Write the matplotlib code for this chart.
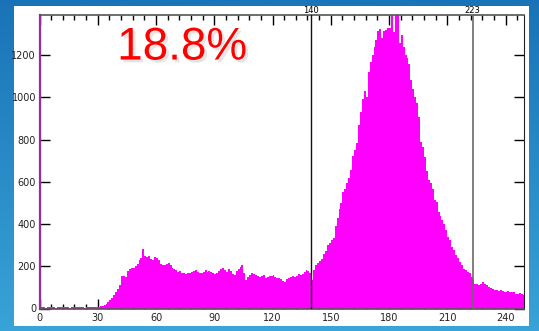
import numpy as np
import matplotlib
matplotlib.use("Agg")
import matplotlib.pyplot as plt
from matplotlib.patches import Rectangle
import matplotlib.patheffects as pe

# Histogram of grey levels (bin width 1, bins 0..249)
low_counts = [2500, 5, 6, 4, 5, 7, 5, 6, 4, 5, 6, 5, 7, 6, 5, 4, 6, 5, 6, 7,
              5, 6, 5, 4, 6, 5, 7, 6, 8, 9]
mid_counts = [8, 10, 14, 18, 22, 30, 42, 52, 66, 78,
              92, 110, 156, 152, 148, 178, 186, 190, 194, 200,
              212, 232, 240, 280, 248, 244, 250, 236, 228, 246,
              240, 232, 212, 204, 208, 212, 214, 206, 194, 188,
              182, 172, 176, 168, 170, 162, 170, 166, 172, 176,
              180, 172, 168, 166, 174, 180, 174, 178, 172, 168,
              164, 170, 178, 186, 190, 182, 174, 186, 176, 164,
              160, 176, 188, 198, 206, 170, 136, 150, 160, 168,
              164, 158, 154, 150, 156, 160, 146, 150, 156, 154,
              160, 150, 146, 144, 140, 132, 126, 138, 146, 150,
              154, 150, 152, 162, 158, 164, 172, 180, 176, 168]
peak_counts = [134, 180, 208, 214, 226, 236, 256, 270, 300, 310,
               326, 334, 390, 428, 470, 498, 550, 566, 594, 620,
               656, 720, 752, 782, 870, 930, 994, 1030, 1000, 1120,
               1168, 1200, 1240, 1270, 1312, 1326, 1280, 1312, 1318, 1330,
               1330, 1420, 1310, 1450, 1450, 1256, 1296, 1240, 1200, 1184,
               1160, 1082, 1040, 1002, 972, 908, 790, 766, 718, 650,
               608, 592, 568, 513, 505, 458, 440, 418, 400, 372,
               340, 324, 290, 276, 252, 237, 221, 205, 189, 180,
               173, 166, 150, 134, 118, 114, 110, 118, 126, 118,
               110, 102, 95, 92, 88, 87, 84, 86, 83, 80,
               79, 82, 78, 79, 76, 71, 70, 74, 68, 66]
counts = np.array(low_counts + mid_counts + peak_counts, dtype=float)
edges = np.arange(len(counts) + 1)

threshold_lo = 140
threshold_hi = 223
fraction_label = "18.8%"

W, H = 539, 331
fig = plt.figure(figsize=(W / 100, H / 100), dpi=100)

# blue gradient backdrop
bg = fig.add_axes([0, 0, 1, 1], zorder=-10)
bg.set_axis_off()
yy, xx = np.mgrid[0:1:200j, 0:1:300j]
top = np.array([0.10, 0.45, 0.72])
bot = np.array([0.22, 0.64, 0.84])
grad = top[None, None, :] * (1 - yy[..., None]) + bot[None, None, :] * yy[..., None]
grad = grad + (0.04 * (0.5 - np.abs(xx - 0.5)))[..., None] * np.array([0.3, 0.5, 0.4])
bg.imshow(np.clip(grad, 0, 1), aspect="auto", extent=[0, 1, 0, 1], origin="upper")
bg.set_xlim(0, 1)
bg.set_ylim(0, 1)

# white panel
fig.patches.append(Rectangle((14 / W, 1 - 326 / H), (529 - 14) / W, (326 - 6) / H,
                             transform=fig.transFigure, facecolor="white",
                             edgecolor="none", zorder=-5))

left, right, topy, bottom = 39.5, 524, 15, 308.5
ax = fig.add_axes([left / W, 1 - bottom / H, (right - left) / W, (bottom - topy) / H])
ax.set_facecolor("white")

ax.stairs(counts, edges, fill=True, color="#ff00ff", linewidth=0, zorder=2)

ax.axvline(threshold_lo, color="#111111", linewidth=1.0, zorder=3)
ax.axvline(threshold_hi, color="#6a6a6a", linewidth=1.2, zorder=3)

ax.set_xlim(0, 249.5)
ax.set_ylim(0, 1390)

ax.set_xticks(np.arange(0, 241, 30))
ax.set_xticks(np.arange(0, 250, 6), minor=True)
ax.set_yticks(np.arange(0, 1201, 200))

ax.tick_params(which="both", direction="in", top=True, right=True,
               labelsize=7, colors="black", width=1.0)
ax.tick_params(which="major", length=7.2)
ax.tick_params(which="minor", length=3.6)
ax.tick_params(axis="x", pad=3.5)
ax.tick_params(axis="y", pad=2.5)
for lab in ax.get_xticklabels() + ax.get_yticklabels():
    lab.set_color("#222222")

for side in ["top", "bottom"]:
    ax.spines[side].set_color("#555555")
    ax.spines[side].set_linewidth(1.2)
ax.spines["right"].set_color("#222222")
ax.spines["left"].set_color("#9a2aa0")
ax.spines["left"].set_linewidth(1.6)

for xv in (threshold_lo, threshold_hi):
    ax.text(xv, 1.0, str(xv), transform=ax.get_xaxis_transform(),
            ha="center", va="bottom", fontsize=6, color="black")

ax.text(40, 1340, fraction_label, fontsize=33, color="#ff0000",
        family="Liberation Sans", ha="left", va="top", zorder=5,
        path_effects=[pe.withSimplePatchShadow(offset=(2, -2), shadow_rgbFace="#999999", alpha=0.25)])

fig.savefig("out.png", dpi=100)
